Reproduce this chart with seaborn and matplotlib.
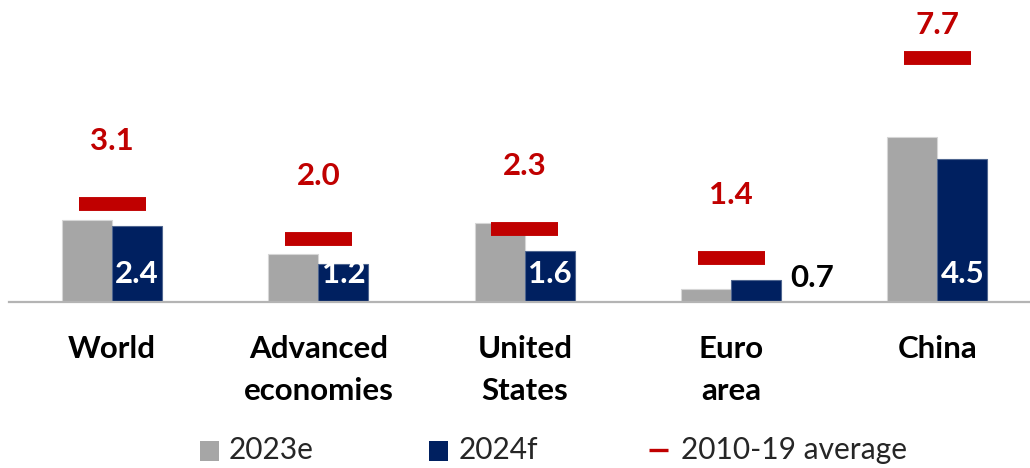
import matplotlib
matplotlib.use("Agg")
import matplotlib.pyplot as plt
from matplotlib.patches import Rectangle
from matplotlib.lines import Line2D
import seaborn as sns
import pandas as pd
import numpy as np

# ---- data ----
categories = ["World", "Advanced\neconomies", "United\nStates", "Euro\narea", "China"]
series_names = ["2023e", "2024f"]
values_2023e = [2.6, 1.5, 2.5, 0.4, 5.2]
values_2024f = [2.4, 1.2, 1.6, 0.7, 4.5]
avg_2010_19 = [3.1, 2.0, 2.3, 1.4, 7.7]
avg_label = "2010-19 average"

GRAY = "#A6A6A6"
NAVY = "#002060"
RED = "#C00000"

sns.set_theme(style="white")
plt.rcParams["font.family"] = ["Lato", "DejaVu Sans"]

W, H = 1030, 468
fig = plt.figure(figsize=(W / 100, H / 100), dpi=100)

px_per_unit = 31.7
base_px = 302  # baseline from top
ax_left, ax_right = 9, 1030
ax = fig.add_axes([ax_left / W, (H - base_px) / H, (ax_right - ax_left) / W, base_px / H])
ymax = base_px / px_per_unit
cat_px = 206.3
ax.set_ylim(0, ymax)

df = pd.DataFrame({
    "cat": categories * 2,
    "series": [series_names[0]] * len(categories) + [series_names[1]] * len(categories),
    "value": values_2023e + values_2024f,
})
sns.barplot(data=df, x="cat", y="value", hue="series", palette=[GRAY, NAVY],
            width=0.485, dodge=True, saturation=1, legend=False, ax=ax,
            errorbar=None)
ax.set_xlim(-0.5, -0.5 + (ax_right - ax_left) / cat_px)

for bar in ax.containers[0]:
    bar.set_edgecolor("#D6D6D6")
    bar.set_linewidth(0.8)
for bar in ax.containers[1]:
    bar.set_edgecolor("#4F6690")
    bar.set_linewidth(0.8)

x = np.arange(len(categories))
# average markers
ax.hlines(avg_2010_19, x - 0.1625, x + 0.1625, colors=RED, linewidth=10,
          capstyle="butt", zorder=3)

FS = 22.5
# average labels
top_limit = ymax - 34 / px_per_unit
for xi, v in zip(x, avg_2010_19):
    ly = min(v + 54 / px_per_unit, top_limit)
    ax.text(xi, ly, f"{v:.1f}", color=RED, fontsize=FS, fontweight="bold",
            ha="center", va="baseline")

# 2024f labels
bar_w = 0.485 / 2
for xi, v in zip(x, values_2024f):
    cx = xi + bar_w / 2
    if v >= 1.0:
        ax.text(cx, 19 / px_per_unit, f"{v:.1f}", color="white", fontsize=FS,
                fontweight="bold", ha="center", va="baseline")
    else:
        ax.text(xi + bar_w + 9 / cat_px, 15 / px_per_unit, f"{v:.1f}", color="black",
                fontsize=FS, fontweight="bold", ha="left", va="baseline")

# axes styling
for s in ["top", "left", "right"]:
    ax.spines[s].set_visible(False)
ax.spines["bottom"].set_color("#B4B4B4")
ax.spines["bottom"].set_linewidth(1.6)
ax.set_yticks([])
ax.set_xlabel("")
ax.set_ylabel("")
ax.tick_params(axis="x", length=0, pad=24)
ax.set_xticks(x)
ax.set_xticklabels(categories, fontsize=FS, fontweight="bold", color="black",
                   linespacing=1.6)

# legend (manual)
LFS = 21.5
ly_c = H - 450
fig.add_artist(Rectangle((200 / W, (H - 461) / H), 19 / W, 20 / H,
                         transform=fig.transFigure, color=GRAY, lw=0))
fig.text(229 / W, ly_c / H, series_names[0], fontsize=LFS, va="center", ha="left")
fig.add_artist(Rectangle((429 / W, (H - 461) / H), 19 / W, 20 / H,
                         transform=fig.transFigure, color=NAVY, lw=0))
fig.text(459 / W, ly_c / H, series_names[1], fontsize=LFS, va="center", ha="left")
fig.add_artist(Line2D([649 / W, 668 / W], [(H - 449.5) / H] * 2,
                      transform=fig.transFigure, color=RED, lw=2.4,
                      solid_capstyle="butt"))
fig.text(681 / W, ly_c / H, avg_label, fontsize=LFS, va="center", ha="left")

fig.savefig("out.png", dpi=100)
